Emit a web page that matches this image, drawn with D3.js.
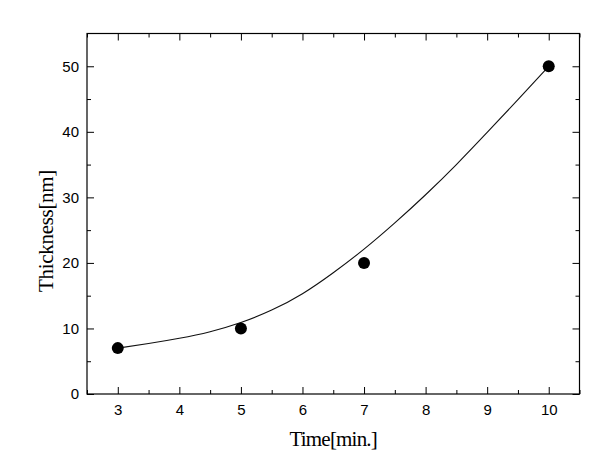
<!DOCTYPE html>
<html>
<head>
<meta charset="utf-8">
<script src="https://cdn.jsdelivr.net/npm/d3@7"></script>
<style>
  html, body { margin: 0; padding: 0; background: #fff; }
  svg { display: block; }
</style>
</head>
<body>
<svg id="chart" width="611" height="475"></svg>
<script>
// Measured points
const timeValues = [3, 5, 7, 10];
const thicknessValues = [7, 10, 20, 50];

// Fitted curve
const fitTime = [3, 3.5, 4, 4.5, 5, 5.5, 6, 6.5, 7, 7.5, 8, 8.5, 9, 9.5, 10];
const fitThickness = [7.0, 7.7, 8.5, 9.5, 10.9, 12.8, 15.3, 18.5, 22.1, 26.1, 30.4, 35.0, 39.9, 44.9, 50.0];

const xTicks = [3, 4, 5, 6, 7, 8, 9, 10];
const xMinorTicks = [2.5, 3.5, 4.5, 5.5, 6.5, 7.5, 8.5, 9.5, 10.5];
const yTicks = [0, 10, 20, 30, 40, 50];
const yMinorTicks = [5, 15, 25, 35, 45];

const xTitle = "Time[min.]";
const yTitle = "Thickness[nm]";

const W = 611, H = 475;
const m = { left: 87, right: 31.5, top: 33.5, bottom: 81 };
const iw = W - m.left - m.right, ih = H - m.top - m.bottom;

const svg = d3.select("#chart");
const g = svg.append("g").attr("transform", `translate(${m.left},${m.top})`);

const x = d3.scaleLinear().domain([2.5, 10.5]).range([0, iw]);
const y = d3.scaleLinear().domain([0, 55]).range([ih, 0]);

const tickFont = "'Liberation Sans', Arial, sans-serif";

function styleAxis(sel) {
  sel.select(".domain").remove();
  sel.selectAll("line").attr("stroke", "#000").attr("stroke-width", 1);
  sel.selectAll("text").attr("font-family", tickFont).attr("font-size", 15).attr("fill", "#000");
}

// bottom axis
g.append("g").attr("transform", `translate(0,${ih})`)
  .call(d3.axisBottom(x).tickValues(xTicks).tickFormat(d3.format("d")).tickSizeInner(-7).tickSizeOuter(0).tickPadding(10))
  .call(styleAxis);
g.append("g").attr("transform", `translate(0,${ih})`)
  .call(d3.axisBottom(x).tickValues(xMinorTicks).tickFormat("").tickSizeInner(-4).tickSizeOuter(0))
  .call(styleAxis);
// top axis
g.append("g")
  .call(d3.axisTop(x).tickValues(xTicks).tickFormat("").tickSizeInner(-7).tickSizeOuter(0))
  .call(styleAxis);
g.append("g")
  .call(d3.axisTop(x).tickValues(xMinorTicks).tickFormat("").tickSizeInner(-4).tickSizeOuter(0))
  .call(styleAxis);
// left axis
g.append("g")
  .call(d3.axisLeft(y).tickValues(yTicks).tickFormat(d3.format("d")).tickSizeInner(-7).tickSizeOuter(0).tickPadding(8))
  .call(styleAxis);
g.append("g")
  .call(d3.axisLeft(y).tickValues(yMinorTicks).tickFormat("").tickSizeInner(-4).tickSizeOuter(0))
  .call(styleAxis);
// right axis
g.append("g").attr("transform", `translate(${iw},0)`)
  .call(d3.axisRight(y).tickValues(yTicks).tickFormat("").tickSizeInner(-7).tickSizeOuter(0))
  .call(styleAxis);
g.append("g").attr("transform", `translate(${iw},0)`)
  .call(d3.axisRight(y).tickValues(yMinorTicks).tickFormat("").tickSizeInner(-4).tickSizeOuter(0))
  .call(styleAxis);

// frame
g.append("rect").attr("x", 0).attr("y", 0).attr("width", iw).attr("height", ih)
  .attr("fill", "none").attr("stroke", "#000").attr("stroke-width", 1.2);

// fitted curve
const fitData = fitTime.map((t, i) => ({ t, v: fitThickness[i] }));
g.append("path").datum(fitData)
  .attr("fill", "none").attr("stroke", "#111").attr("stroke-width", 1.1)
  .attr("d", d3.line().x(d => x(d.t)).y(d => y(d.v)).curve(d3.curveNatural));

// points
const pts = timeValues.map((t, i) => ({ t, v: thicknessValues[i] }));
g.selectAll("circle.pt").data(pts).enter().append("circle")
  .attr("class", "pt")
  .attr("cx", d => x(d.t)).attr("cy", d => y(d.v)).attr("r", 6)
  .attr("fill", "#000");

// titles
svg.append("text")
  .attr("x", m.left + x(6.5)).attr("y", 446)
  .attr("text-anchor", "middle")
  .attr("font-family", "'Liberation Serif', 'Times New Roman', serif")
  .attr("font-size", 21).attr("letter-spacing", -0.8)
  .text(xTitle);

svg.append("text")
  .attr("transform", `translate(53,${231}) rotate(-90)`)
  .attr("text-anchor", "middle")
  .attr("font-family", "'Liberation Serif', 'Times New Roman', serif")
  .attr("font-size", 21).attr("letter-spacing", -0.3)
  .text(yTitle);
</script>
</body>
</html>
